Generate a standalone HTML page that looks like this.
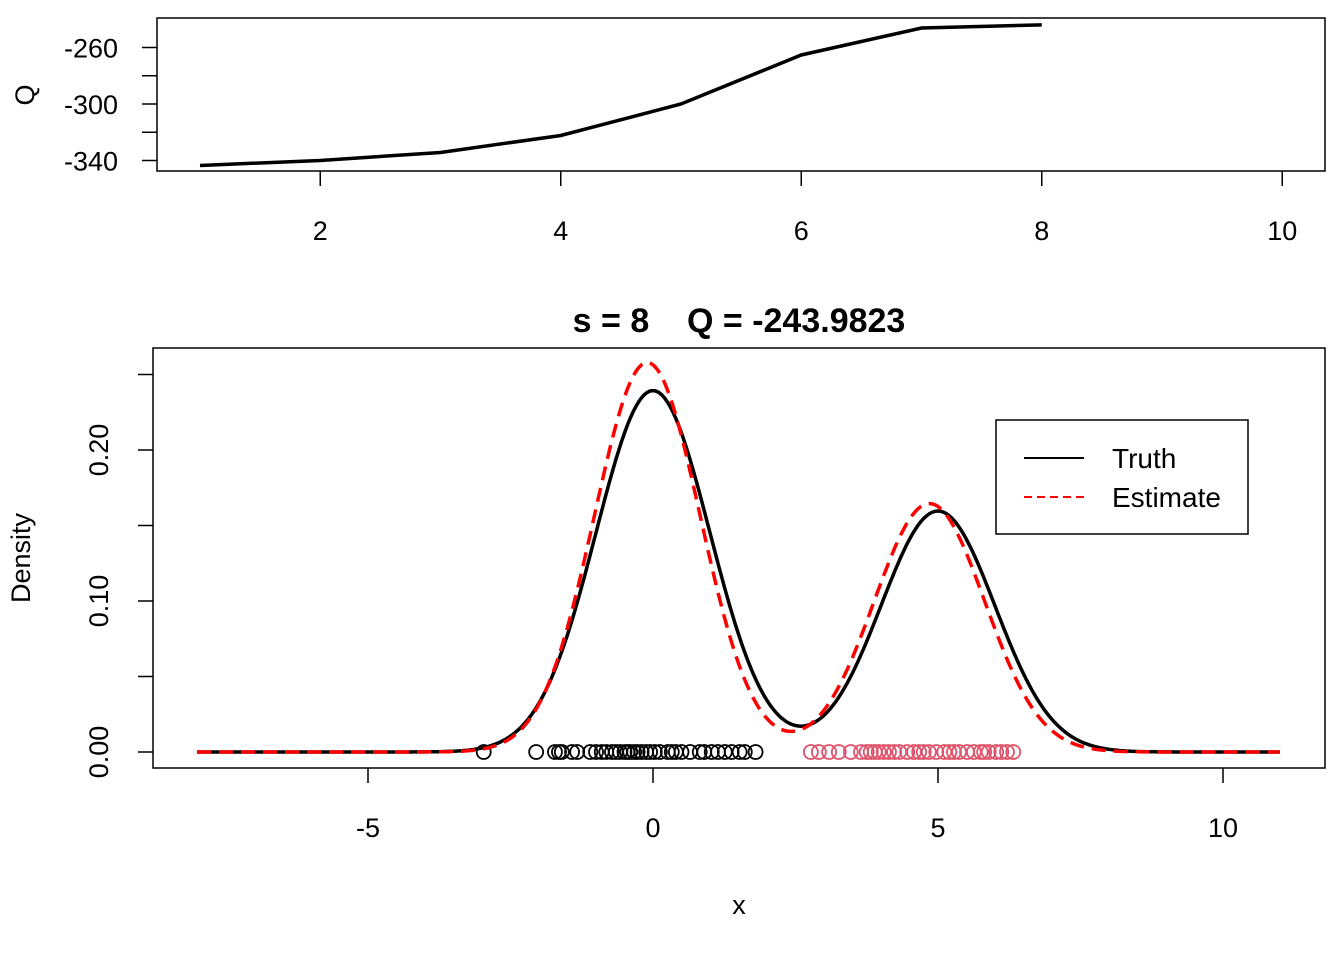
<!DOCTYPE html>
<html><head><meta charset="utf-8"><style>
body{margin:0;background:#fff}
svg{display:block;font-family:"Liberation Sans",Arial,sans-serif}
</style></head><body>
<svg id="c" width="1344" height="960" xmlns="http://www.w3.org/2000/svg">
<rect width="1344" height="960" fill="#fff"/>
<g id="top"></g>
<g id="bot"></g>
</svg>
<script>
// Top panel data
const qIter=[1,2,3,4,5,6,7,8];
const qVals=[-343.5,-340,-334.3,-322.3,-300,-265.3,-246.2,-243.98];
const qXTicks=[2,4,6,8,10];
const qYTicks=[-340,-320,-300,-280,-260];
const qYLabels=["-340","","-300","","-260"];
// Bottom panel data
const truthW=[0.6,0.4], truthMu=[0,5], truthSd=[1,1];
const estW=[0.6,0.4], estMu=[-0.1,4.85], estSd=[0.928,0.97];
const grp1=[-2.97,-2.05,-1.72,-1.65,-1.6,-1.42,-1.33,-1.1,-1.0,-0.9,-0.82,-0.72,-0.65,-0.58,-0.5,-0.45,-0.4,-0.33,-0.27,-0.2,-0.12,-0.05,0.03,0.12,0.26,0.33,0.4,0.5,0.65,0.82,0.9,1.03,1.14,1.26,1.38,1.52,1.61,1.8];
const grp2=[2.77,2.91,3.09,3.26,3.47,3.65,3.75,3.82,3.89,3.96,4.05,4.14,4.23,4.32,4.46,4.58,4.67,4.75,4.84,4.97,5.11,5.2,5.28,5.37,5.51,5.63,5.75,5.81,5.89,6.02,6.11,6.21,6.32];
const dXTicks=[-5,0,5,10];
const dYTicks=[0,0.05,0.10,0.15,0.20,0.25];
const dYLabels=["0.00","","0.10","","0.20",""];

const NS="http://www.w3.org/2000/svg";
function mk(parent,tag,attrs,text){const e=document.createElementNS(NS,tag);for(const k in attrs)e.setAttribute(k,attrs[k]);if(text!==undefined)e.textContent=text;parent.appendChild(e);return e;}

// ---- top
const T=document.getElementById('top');
const tx=v=>200+(v-1)*120.25, ty=v=>104-(v+300)*56.5/40;
let e=mk(T,'rect',{x:157,y:18,width:1168,height:153,fill:'none',stroke:'#000','stroke-width':1.5});

qXTicks.forEach(v=>{
 let l=mk(T,'line',{x1:tx(v),x2:tx(v),y1:171,y2:186,stroke:'#000','stroke-width':1.5});
 
 let t=mk(T,'text',{x:tx(v),y:240,'font-size':27,'text-anchor':'middle'},String(v));
 
});
qYTicks.forEach((v,i)=>{
 let l=mk(T,'line',{x1:142,x2:157,y1:ty(v),y2:ty(v),stroke:'#000','stroke-width':1.5});
 
 if(qYLabels[i]){let t=mk(T,'text',{x:118,y:ty(v)+10,'font-size':27,'text-anchor':'end'},qYLabels[i]);
 }
});
e=mk(T,'text',{x:34,y:95,'font-size':27,'text-anchor':'middle',transform:'rotate(-90 34 95)'},'Q');

e=mk(T,'polyline',{points:qIter.map((x,i)=>tx(x)+','+ty(qVals[i])).join(' '),fill:'none',stroke:'#000','stroke-width':3.5});


// ---- bottom
const B=document.getElementById('bot');
const bx=v=>653+v*57, by=v=>752-v*1510;
function dens(w,mu,sd,x){let s=0;for(let i=0;i<w.length;i++)s+=w[i]*Math.exp(-0.5*((x-mu[i])/sd[i])**2)/(sd[i]*Math.sqrt(2*Math.PI));return s;}
e=mk(B,'rect',{x:153,y:348,width:1172,height:420,fill:'none',stroke:'#000','stroke-width':1.5});

dXTicks.forEach(v=>{
 let l=mk(B,'line',{x1:bx(v),x2:bx(v),y1:768,y2:783,stroke:'#000','stroke-width':1.5});
 
 let t=mk(B,'text',{x:bx(v),y:837,'font-size':27,'text-anchor':'middle'},String(v));
 
});
dYTicks.forEach((v,i)=>{
 let l=mk(B,'line',{x1:138,x2:153,y1:by(v),y2:by(v),stroke:'#000','stroke-width':1.5});
 
 if(dYLabels[i]){let t=mk(B,'text',{x:108,y:by(v),'font-size':27,'text-anchor':'middle',transform:`rotate(-90 108 ${by(v)})`},dYLabels[i]);
 }
});
e=mk(B,'text',{x:30,y:558,'font-size':27,'text-anchor':'middle',transform:'rotate(-90 30 558)'},'Density');

e=mk(B,'text',{x:739,y:914,'font-size':27,'text-anchor':'middle'},'x');

e=mk(B,'text',{x:739,y:332,'font-size':34,'font-weight':'bold','text-anchor':'middle'},'s = 8\u00a0\u00a0\u00a0\u00a0Q = -243.9823');

grp1.forEach(v=>{let c=mk(B,'circle',{cx:bx(v),cy:752,r:7,fill:'none',stroke:'#000','stroke-width':1.8});
 });
grp2.forEach(v=>{let c=mk(B,'circle',{cx:bx(v),cy:752,r:7,fill:'none',stroke:'#DF536B','stroke-width':1.8});
 });
function curve(w,mu,sd){let p=[];for(let x=-8;x<=11.0001;x+=0.05)p.push(bx(x).toFixed(1)+','+by(dens(w,mu,sd,x)).toFixed(1));return p.join(' ');}
e=mk(B,'polyline',{points:curve(truthW,truthMu,truthSd),fill:'none',stroke:'#000','stroke-width':3.5});

e=mk(B,'polyline',{points:curve(estW,estMu,estSd),fill:'none',stroke:'#f00','stroke-width':3.5,'stroke-dasharray':'14 8'});

// legend
const L=mk(B,'g',{});

e=mk(L,'rect',{x:996,y:420,width:252,height:114,fill:'#fff',stroke:'#000','stroke-width':1.5});

e=mk(L,'line',{x1:1024,x2:1084,y1:458,y2:458,stroke:'#000','stroke-width':2});

e=mk(L,'text',{x:1112,y:468,'font-size':28},'Truth');

e=mk(L,'line',{x1:1024,x2:1084,y1:497,y2:497,stroke:'#f00','stroke-width':2,'stroke-dasharray':'8 5'});

e=mk(L,'text',{x:1112,y:507,'font-size':28},'Estimate');

</script>
</body></html>
